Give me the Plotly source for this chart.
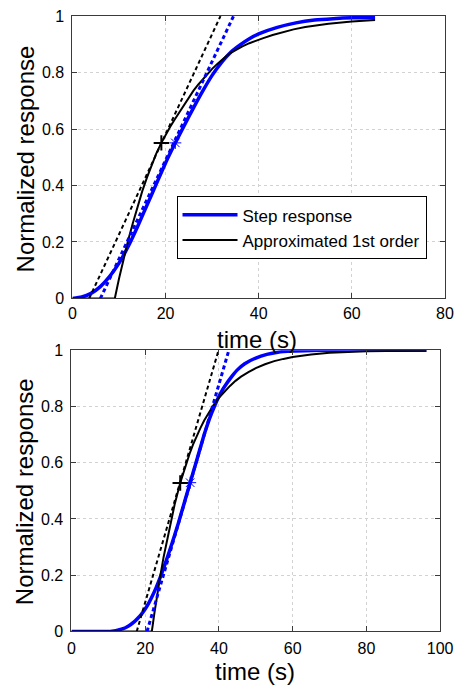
import plotly.graph_objects as go

# ---------------- data ----------------
# Top panel
top_step_t = [0, 2, 4, 6, 8, 10, 12, 14, 16, 18, 20, 22, 24, 26, 28, 30, 32, 34, 36, 38, 40, 44, 48, 52, 56, 60, 65]
top_step_y = [0, 0.005, 0.018, 0.042, 0.078, 0.125, 0.185, 0.255, 0.33, 0.405, 0.48, 0.548, 0.612, 0.675, 0.735, 0.79, 0.835, 0.872, 0.898, 0.92, 0.937, 0.96, 0.976, 0.986, 0.991, 0.994, 0.995]

top_fo_t = [0, 9.1, 10, 11, 12, 13, 14, 15, 16, 17, 18, 19.1, 20, 21, 22, 23, 24, 25, 26, 27, 28, 29, 30, 31, 32, 33, 34, 35, 36.5, 38, 39.5, 41, 43, 45, 47.5, 50, 55, 60, 65]
top_fo_y = [0, 0, 0.07, 0.14, 0.208, 0.268, 0.326, 0.38, 0.428, 0.473, 0.513, 0.551, 0.58, 0.608, 0.635, 0.66, 0.688, 0.713, 0.736, 0.757, 0.777, 0.795, 0.813, 0.829, 0.844, 0.858, 0.87, 0.88, 0.893, 0.904, 0.914, 0.922, 0.933, 0.943, 0.953, 0.961, 0.973, 0.981, 0.986]

top_tan_step_t = [6.0, 34.6]
top_tan_step_y = [0, 1]
top_tan_fo_t = [3.6, 31.8]
top_tan_fo_y = [0, 1]

top_mark_step = ([22.1], [0.551])
top_mark_fo = ([19.1], [0.551])

# Bottom panel
bot_step_t = [0, 10, 11, 12, 13, 14, 15, 16, 17, 18, 19, 20, 21, 22, 23, 24, 25, 26, 27, 28, 29, 30,
              31, 32, 33, 34, 35, 36, 37, 38, 39, 40, 41, 42, 43, 44, 45, 47, 50, 53, 56, 60, 65, 70, 80, 96.3]
bot_step_y = [0, 0, 0.001, 0.003, 0.006, 0.01, 0.016, 0.024, 0.034, 0.047, 0.062, 0.08, 0.102, 0.128, 0.157, 0.19, 0.225, 0.263, 0.302, 0.343, 0.385, 0.43,
              0.475, 0.52, 0.565, 0.61, 0.655, 0.7, 0.74, 0.775, 0.807, 0.835, 0.86, 0.88, 0.898, 0.915, 0.93, 0.952, 0.972, 0.985, 0.993, 0.997, 0.999, 1.0, 1.0, 1.0]

bot_fo_t = [0, 21.8, 22.5, 23, 24, 25, 26, 27, 28, 29.5, 31, 32, 33, 34, 35, 36, 37, 38.5, 40, 41.5, 43, 44.5, 46, 48, 50, 52.5, 55, 57.5, 60, 65, 70, 80, 90, 96.3]
bot_fo_y = [0, 0, 0.065, 0.11, 0.19, 0.265, 0.332, 0.395, 0.452, 0.528, 0.592, 0.63, 0.665, 0.696, 0.724, 0.75, 0.773, 0.804, 0.831, 0.854, 0.873, 0.891, 0.906, 0.922, 0.936, 0.95, 0.961, 0.969, 0.976, 0.985, 0.991, 0.996, 0.998, 0.999]

bot_tan_step_t = [20.5, 42.7]
bot_tan_step_y = [0, 1]
bot_tan_fo_t = [17.7, 39.9]
bot_tan_fo_y = [0, 1]

bot_mark_step = ([32.2], [0.529])
bot_mark_fo = ([29.5], [0.528])

y_ticks = [0, 0.2, 0.4, 0.6, 0.8, 1]
y_tick_labels = ["0", "0.2", "0.4", "0.6", "0.8", "1"]
top_x_ticks = [0, 20, 40, 60, 80]
bot_x_ticks = [0, 20, 40, 60, 80, 100]

legend_names = ["Step response", "Approximated 1st order"]

# ---------------- styling ----------------
BLUE = "rgb(0,0,255)"
BLACK = "rgb(0,0,0)"
FONT = "Arial, 'Liberation Sans', Helvetica, sans-serif"

fig = go.Figure()


def add_panel(xa, ya, st, sy, ft, fy, tst, tsy, tft, tfy, mst, mfo, legend):
    fig.add_trace(go.Scatter(x=st, y=sy, mode="lines", xaxis=xa, yaxis=ya,
                             line=dict(color=BLUE, width=3.5, shape="spline", smoothing=0.5),
                             name=legend_names[0], showlegend=legend))
    fig.add_trace(go.Scatter(x=ft, y=fy, mode="lines", xaxis=xa, yaxis=ya,
                             line=dict(color=BLACK, width=2, shape="linear"),
                             name=legend_names[1], showlegend=legend))
    fig.add_trace(go.Scatter(x=tft, y=tfy, mode="lines", xaxis=xa, yaxis=ya,
                             line=dict(color=BLACK, width=2, dash="4px,3px"),
                             showlegend=False))
    fig.add_trace(go.Scatter(x=tst, y=tsy, mode="lines", xaxis=xa, yaxis=ya,
                             line=dict(color=BLUE, width=3, dash="4px,3px"),
                             showlegend=False))
    fig.add_trace(go.Scatter(x=mst[0], y=mst[1], mode="markers", xaxis=xa, yaxis=ya,
                             marker=dict(symbol="asterisk-open", size=10, color=BLUE,
                                         line=dict(color=BLUE, width=1)),
                             showlegend=False))
    fig.add_trace(go.Scatter(x=mfo[0], y=mfo[1], mode="markers", xaxis=xa, yaxis=ya,
                             marker=dict(symbol="cross-thin-open", size=11, color=BLACK,
                                         line=dict(color=BLACK, width=2)),
                             showlegend=False))


add_panel("x", "y", top_step_t, top_step_y, top_fo_t, top_fo_y,
          top_tan_step_t, top_tan_step_y, top_tan_fo_t, top_tan_fo_y,
          top_mark_step, top_mark_fo, True)
add_panel("x2", "y2", bot_step_t, bot_step_y, bot_fo_t, bot_fo_y,
          bot_tan_step_t, bot_tan_step_y, bot_tan_fo_t, bot_tan_fo_y,
          bot_mark_step, bot_mark_fo, False)

W, H = 469, 700

common_axis = dict(
    showline=True, linecolor="#3a3a3a", linewidth=1, mirror="ticks",
    ticks="inside", ticklen=5, tickcolor="#3a3a3a", tickwidth=1,
    showgrid=True, gridcolor="#d2d2d2", griddash="dot", gridwidth=1,
    zeroline=False, tickfont=dict(family=FONT, size=16, color="black"),
)

fig.update_layout(
    width=W, height=H,
    margin=dict(l=0, r=0, t=0, b=0),
    paper_bgcolor="white", plot_bgcolor="white",
    font=dict(family=FONT, color="black"),
    xaxis=dict(domain=[71 / W, 457.5 / W], range=[0, 80], tickvals=top_x_ticks,
               anchor="y", ticklabelstandoff=0, **common_axis),
    yaxis=dict(domain=[1 - 297.7 / H, 1 - 8.3 / H], range=[0, 1], tickvals=y_ticks,
               ticktext=y_tick_labels, anchor="x", ticklabelstandoff=4, **common_axis),
    xaxis2=dict(domain=[70 / W, 452.5 / W], range=[0, 100], tickvals=bot_x_ticks,
                anchor="y2", ticklabelstandoff=2, **common_axis),
    yaxis2=dict(domain=[1 - 639 / H, 1 - 350.7 / H], range=[0, 1], tickvals=y_ticks,
                ticktext=y_tick_labels, anchor="x2", ticklabelstandoff=4, **common_axis),
    legend=dict(x=179 / W, y=1 - 193 / H, xanchor="left", yanchor="top",
                bgcolor="white", bordercolor="black", borderwidth=1,
                font=dict(family=FONT, size=17, color="black"),
                itemwidth=55, tracegroupgap=0),
    showlegend=True,
    annotations=[
        dict(text="Normalized response", x=22 / W, y=1 - 155 / H, xref="paper", yref="paper",
             textangle=-90, showarrow=False, xanchor="center", yanchor="middle",
             font=dict(family=FONT, size=24, color="black")),
        dict(text="Normalized response", x=22 / W, y=1 - 496 / H, xref="paper", yref="paper",
             textangle=-90, showarrow=False, xanchor="center", yanchor="middle",
             font=dict(family=FONT, size=24, color="black")),
        dict(text="time (s)", x=263 / W, y=1 - 340 / H, xref="paper", yref="paper",
             showarrow=False, xanchor="center", yanchor="middle",
             font=dict(family=FONT, size=24, color="black")),
        dict(text="time (s)", x=260.5 / W, y=1 - 680 / H, xref="paper", yref="paper",
             showarrow=False, xanchor="center", yanchor="middle",
             font=dict(family=FONT, size=24, color="black")),
    ],
)

fig.write_html("out.html")
